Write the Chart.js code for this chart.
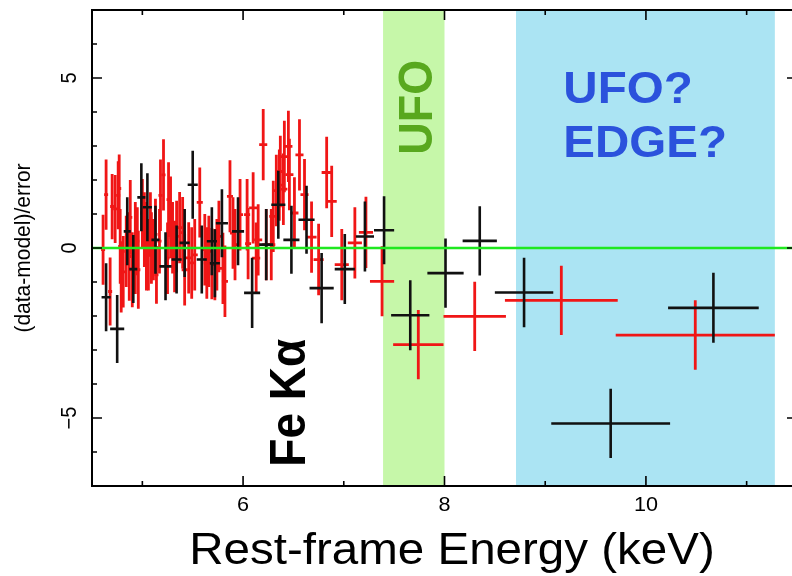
<!DOCTYPE html>
<html>
<head>
<meta charset="utf-8">
<script src="https://cdn.jsdelivr.net/npm/chart.js@4.4.1/dist/chart.umd.min.js"></script>
<style>
  html, body { margin: 0; padding: 0; background: #fff; overflow: hidden; }
  #wrap { width: 800px; height: 576px; }
</style>
</head>
<body>
<div id="wrap"><canvas id="resid" width="800" height="576"></canvas></div>
<script>
// --- residuals: energy (keV), (data-model)/error, half-widths ---
const redX = [
  4.61, 4.64, 4.68, 4.70, 4.73, 4.76, 4.77, 4.78, 4.79, 4.81,
  4.84, 4.87, 4.88, 4.90, 4.93, 4.95, 4.96, 5.00, 5.02, 5.04,
  5.06, 5.08, 5.09, 5.11, 5.13, 5.14, 5.17, 5.18, 5.21, 5.25,
  5.26, 5.28, 5.30, 5.32, 5.34, 5.37, 5.40, 5.42, 5.46, 5.49,
  5.52, 5.57, 5.62, 5.64, 5.66, 5.69, 5.72, 5.74, 5.76, 5.80,
  5.82, 5.87, 5.90, 5.92, 5.97, 6.04, 6.05, 6.10, 6.13, 6.15,
  6.20, 6.23, 6.28, 6.30, 6.33, 6.36, 6.37, 6.40, 6.41, 6.45,
  6.46, 6.51, 6.56, 6.61, 6.68, 6.75, 6.83, 6.88, 6.98, 7.11,
  7.22, 7.38, 7.74, 8.30, 9.16, 10.49];
const redY = [
  -0.05, 1.57, -1.28, 1.22, 1.15, 1.55, 1.75, 0.05, -0.85, -0.70,
  -0.10, -0.25, 0.90, -0.64, 0.00, 0.20, -0.64, 1.03, 0.54, 0.05,
  -0.20, 0.69, 0.00, -0.05, 0.40, -0.79, 0.20, 1.55, 2.15, -0.30,
  1.42, 0.90, 0.30, -0.25, 0.34, 0.60, 0.45, -0.64, -0.29, -0.44,
  -0.20, 1.34, -0.05, -0.44, -0.10, -0.46, -0.49, -0.20, 0.34, -0.60,
  -0.98, 1.52, 0.44, 0.10, 0.98, 0.98, 0.13, 1.18, -0.30, 0.24,
  3.04, 0.10, 0.10, 0.93, 1.69, 1.85, 2.25, 1.73, 2.69, 2.99,
  2.16, 1.03, 2.74, 1.57, 0.32, -0.34, 2.22, 1.37, -0.49, 0.15,
  0.46, -0.98, -2.84, -2.01, -1.54, -2.56];
const redXErr = [
  0.02, 0.02, 0.02, 0.02, 0.02, 0.02, 0.02, 0.02, 0.02, 0.02,
  0.02, 0.02, 0.02, 0.02, 0.02, 0.02, 0.02, 0.02, 0.02, 0.02,
  0.02, 0.02, 0.02, 0.02, 0.02, 0.02, 0.02, 0.02, 0.02, 0.02,
  0.02, 0.02, 0.03, 0.03, 0.03, 0.03, 0.03, 0.03, 0.03, 0.03,
  0.03, 0.03, 0.03, 0.03, 0.03, 0.03, 0.03, 0.03, 0.03, 0.03,
  0.03, 0.03, 0.03, 0.03, 0.03, 0.03, 0.03, 0.04, 0.04, 0.04,
  0.04, 0.04, 0.04, 0.04, 0.04, 0.04, 0.04, 0.04, 0.04, 0.04,
  0.04, 0.04, 0.04, 0.04, 0.05, 0.05, 0.05, 0.05, 0.07, 0.07,
  0.07, 0.12, 0.25, 0.31, 0.56, 0.79];
const redYErr = [
  1.03, 1.03, 1.00, 0.96, 1.00, 1.00, 1.00, 1.10, 1.05, 1.05,
  1.05, 1.30, 1.10, 1.10, 1.35, 1.00, 1.15, 1.00, 1.10, 1.30,
  1.05, 0.95, 1.05, 0.90, 1.05, 0.85, 0.95, 1.05, 1.05, 1.05,
  1.10, 1.20, 1.05, 1.05, 1.05, 1.05, 1.05, 1.05, 1.05, 1.05,
  1.05, 1.03, 1.05, 1.05, 1.05, 1.05, 1.05, 1.05, 1.05, 1.05,
  1.05, 1.06, 1.05, 1.05, 1.05, 1.05, 1.05, 1.05, 1.05, 1.05,
  1.05, 1.05, 1.05, 1.05, 1.05, 1.05, 1.05, 1.05, 1.05, 1.05,
  1.05, 1.05, 1.05, 1.05, 1.05, 1.05, 1.05, 1.05, 1.05, 1.05,
  1.05, 1.03, 1.02, 1.02, 1.02, 1.02];

const blackX = [4.64, 4.75, 4.85, 4.91, 4.99, 5.05, 5.13, 5.23, 5.34, 5.42, 5.50, 5.59, 5.69, 5.72, 5.79, 5.95,
  6.09, 6.23, 6.35, 6.48, 6.63, 6.78, 7.01, 7.21, 7.40, 7.66, 8.01, 8.35, 8.79, 9.65, 10.67];
const blackY = [-1.45, -2.38, 0.49, -0.62, 1.49, 1.20, 0.24, -0.54, -0.34, 0.15, 1.86, -0.34, 0.20, -0.45, 0.73, 0.49,
  -1.32, 0.10, 1.27, 0.24, 0.83, -1.18, -0.62, 0.34, 0.52, -1.98, -0.74, 0.21, -1.31, -5.16, -1.76];
const blackXErr = [0.045, 0.07, 0.035, 0.04, 0.04, 0.045, 0.04, 0.06, 0.05, 0.05, 0.05, 0.05, 0.05, 0.05, 0.06, 0.06,
  0.08, 0.07, 0.07, 0.08, 0.08, 0.12, 0.10, 0.09, 0.10, 0.19, 0.18, 0.17, 0.29, 0.59, 0.45];
const blackYErr = [1.0, 1.0, 1.0, 1.0, 1.0, 1.0, 1.0, 1.0, 1.0, 1.0, 1.0, 1.0, 1.0, 1.0, 1.0, 1.0,
  1.03, 1.05, 1.0, 1.0, 1.0, 1.03, 1.03, 1.03, 1.0, 1.03, 1.02, 1.02, 1.02, 1.02, 1.03];

// shaded energy windows
const ufoBand = [7.39, 8.0];
const edgeBand = [8.71, 11.28];

// axis ticks
const xMajor = [6, 8, 10];
const xMinor = [5, 7, 9, 11];
const yMajor = [-5, 0, 5];
const yMinor = [-6, -4, -3, -2, -1, 1, 2, 3, 4, 6];
const yLabels = ["\u22125", "0", "5"];

const FONT = "'Liberation Sans', Arial, Helvetica, sans-serif";
const STRETCH = 1.08;

function toPoints(xs, ys, xe, ye) {
  return xs.map((x, i) => ({ x, y: ys[i], xe: xe[i], ye: ye[i] }));
}

// bands under the data
const bands = {
  id: "bands",
  beforeDatasetsDraw(chart) {
    const { ctx, chartArea: a, scales: { x } } = chart;
    ctx.save();
    ctx.fillStyle = "#c6f7a9";
    ctx.fillRect(x.getPixelForValue(ufoBand[0]), a.top, x.getPixelForValue(ufoBand[1]) - x.getPixelForValue(ufoBand[0]), a.bottom - a.top);
    ctx.fillStyle = "#abe4f3";
    ctx.fillRect(x.getPixelForValue(edgeBand[0]), a.top, x.getPixelForValue(edgeBand[1]) - x.getPixelForValue(edgeBand[0]), a.bottom - a.top);
    ctx.restore();
  },
};

// crosses for every point, then the zero line on top
const errorBars = {
  id: "errorBars",
  afterDatasetsDraw(chart) {
    const { ctx, chartArea: a, scales: { x, y } } = chart;
    ctx.save();
    ctx.beginPath();
    ctx.rect(a.left, a.top, a.right - a.left, a.bottom - a.top);
    ctx.clip();
    chart.data.datasets.forEach((ds) => {
      ctx.strokeStyle = ds.borderColor;
      ctx.lineWidth = ds.borderWidth;
      ds.data.forEach((p) => {
        const px = x.getPixelForValue(p.x);
        const py = y.getPixelForValue(p.y);
        ctx.beginPath();
        ctx.moveTo(x.getPixelForValue(p.x - p.xe), py);
        ctx.lineTo(x.getPixelForValue(p.x + p.xe), py);
        ctx.moveTo(px, y.getPixelForValue(p.y + p.ye));
        ctx.lineTo(px, y.getPixelForValue(p.y - p.ye));
        ctx.stroke();
      });
    });
    ctx.strokeStyle = "#1fe81f";
    ctx.lineWidth = 2.5;
    ctx.beginPath();
    ctx.moveTo(a.left, y.getPixelForValue(0));
    ctx.lineTo(a.right, y.getPixelForValue(0));
    ctx.stroke();
    ctx.restore();
  },
};

function rotText(ctx, str, cx, cy, size, weight, color) {
  ctx.save();
  ctx.font = `${weight} ${size}px ${FONT}`;
  ctx.fillStyle = color;
  ctx.textAlign = "center";
  ctx.textBaseline = "alphabetic";
  ctx.translate(cx, cy);
  ctx.scale(STRETCH, 1);
  ctx.rotate(-Math.PI / 2);
  ctx.fillText(str, 0, size * 0.358);
  ctx.restore();
}

function flatText(ctx, str, px, py, size, weight, color, align) {
  ctx.save();
  ctx.font = `${weight} ${size}px ${FONT}`;
  ctx.fillStyle = color;
  ctx.textAlign = align;
  ctx.textBaseline = "alphabetic";
  ctx.translate(px, py);
  ctx.scale(STRETCH, 1);
  ctx.fillText(str, 0, 0);
  ctx.restore();
}

// frame, inward ticks, labels and annotations
const frame = {
  id: "frame",
  afterDraw(chart) {
    const { ctx, chartArea: a, scales: { x, y } } = chart;
    ctx.save();
    ctx.strokeStyle = "#000";
    ctx.lineWidth = 2;
    ctx.strokeRect(a.left, a.top, a.right - a.left, a.bottom - a.top);
    ctx.lineWidth = 1.6;
    ctx.beginPath();
    const xt = (vals, len) => vals.forEach((v) => {
      const px = x.getPixelForValue(v);
      ctx.moveTo(px, a.bottom); ctx.lineTo(px, a.bottom - len);
      ctx.moveTo(px, a.top); ctx.lineTo(px, a.top + len);
    });
    const yt = (vals, len) => vals.forEach((v) => {
      const py = y.getPixelForValue(v);
      ctx.moveTo(a.left, py); ctx.lineTo(a.left + len, py);
      ctx.moveTo(a.right, py); ctx.lineTo(a.right - len, py);
    });
    xt(xMajor, 10); xt(xMinor, 5);
    yt(yMajor, 10); yt(yMinor, 5);
    ctx.stroke();
    ctx.restore();

    xMajor.forEach((v) => flatText(ctx, String(v), x.getPixelForValue(v), a.bottom + 25, 20, "normal", "#000", "center"));
    yMajor.forEach((v, i) => rotText(ctx, yLabels[i], a.left - 24, y.getPixelForValue(v), 20, "normal", "#000"));
    rotText(ctx, "(data-model)/error", 22, y.getPixelForValue(0), 21, "normal", "#000");
    flatText(ctx, "Rest-frame Energy (keV)", 452, 564, 44, "normal", "#000", "center");

    rotText(ctx, "UFO", x.getPixelForValue(7.7), y.getPixelForValue(4.14), 45, "bold", "#58a81e");
    flatText(ctx, "UFO?", x.getPixelForValue(9.18), y.getPixelForValue(4.26), 44, "bold", "#2b52dc", "left");
    flatText(ctx, "EDGE?", x.getPixelForValue(9.18), y.getPixelForValue(2.69), 44, "bold", "#2b52dc", "left");
    rotText(ctx, "Fe K\u03b1", x.getPixelForValue(6.44), y.getPixelForValue(-4.55), 46, "bold", "#000");
  },
};

new Chart(document.getElementById("resid"), {
  type: "scatter",
  data: {
    datasets: [
      { label: "red", data: toPoints(redX, redY, redXErr, redYErr), borderColor: "#f01616", borderWidth: 2.8, pointRadius: 0 },
      { label: "black", data: toPoints(blackX, blackY, blackXErr, blackYErr), borderColor: "#111", borderWidth: 2.6, pointRadius: 0 },
    ],
  },
  options: {
    responsive: false,
    animation: false,
    devicePixelRatio: 1,
    layout: { padding: { left: 92, top: 10, right: 3, bottom: 90 } },
    plugins: { legend: { display: false }, tooltip: { enabled: false } },
    scales: {
      x: { type: "linear", min: 4.5, max: 11.5, display: false },
      y: { type: "linear", min: -7, max: 7, display: false },
    },
  },
  plugins: [bands, errorBars, frame],
});
</script>
</body>
</html>
